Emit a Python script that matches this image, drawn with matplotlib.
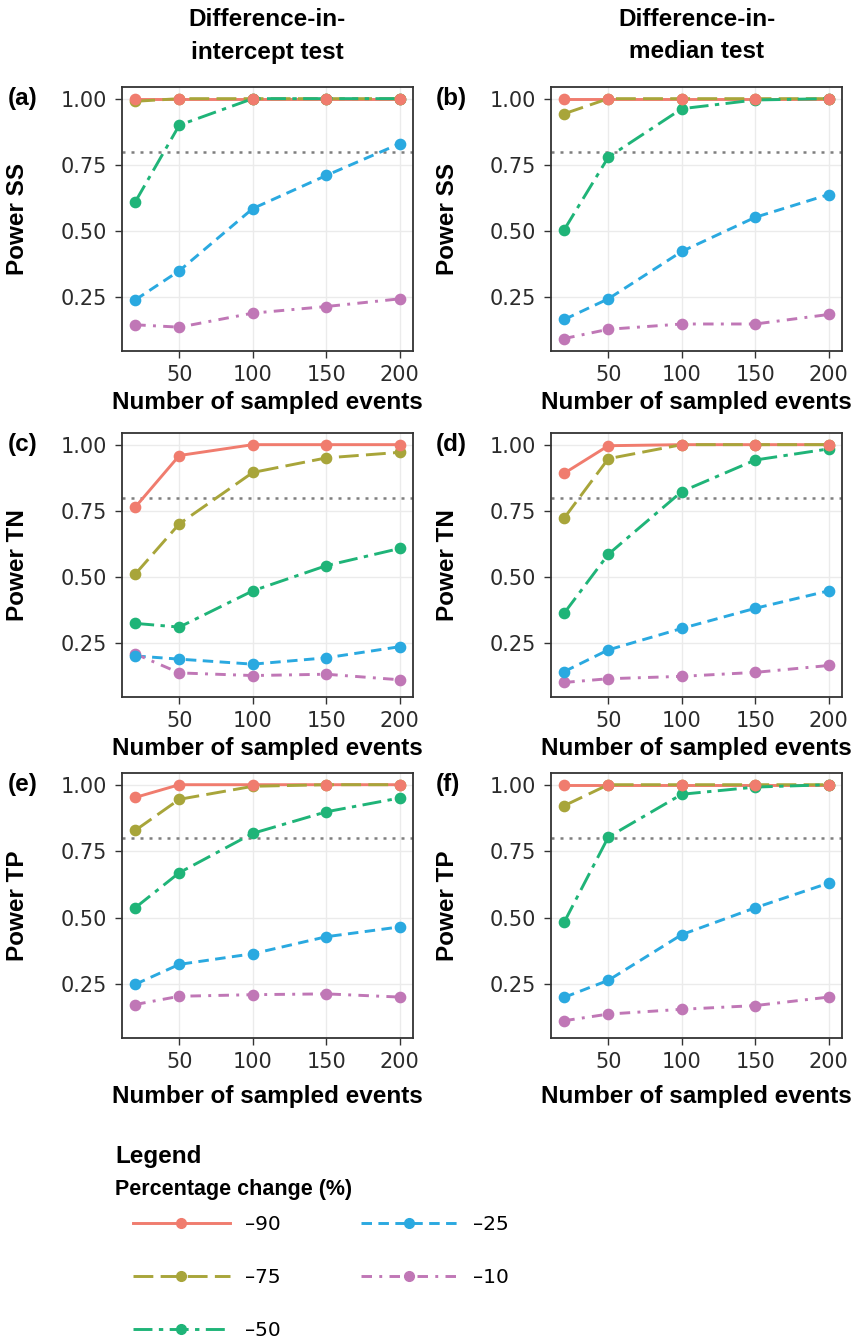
import matplotlib
matplotlib.use('Agg')
import matplotlib.pyplot as plt
from matplotlib.lines import Line2D
from matplotlib.ticker import FormatStrFormatter

# sampled events on x axis
n_events = [20, 50, 100, 150, 200]
pct_change = ['–90', '–75', '–50', '–25', '–10']

# power per percentage change (-90, -75, -50, -25, -10)
power_ss_intercept = [[1.00, 1.00, 1.00, 1.00, 1.00],
                      [0.99, 1.00, 1.00, 1.00, 1.00],
                      [0.61, 0.90, 1.00, 1.00, 1.00],
                      [0.24, 0.35, 0.585, 0.71, 0.83],
                      [0.146, 0.137, 0.19, 0.215, 0.244]]
power_ss_median = [[1.00, 1.00, 1.00, 1.00, 1.00],
                   [0.943, 1.00, 1.00, 1.00, 1.00],
                   [0.505, 0.779, 0.962, 0.995, 1.00],
                   [0.166, 0.244, 0.423, 0.552, 0.638],
                   [0.094, 0.129, 0.149, 0.149, 0.185]]
power_tn_intercept = [[0.764, 0.959, 1.00, 1.00, 1.00],
                      [0.511, 0.701, 0.895, 0.950, 0.971],
                      [0.325, 0.311, 0.448, 0.543, 0.608],
                      [0.202, 0.190, 0.171, 0.195, 0.237],
                      [0.210, 0.138, 0.128, 0.133, 0.112]]
power_tn_median = [[0.892, 0.996, 1.00, 1.00, 1.00],
                   [0.723, 0.947, 1.00, 1.00, 1.00],
                   [0.364, 0.586, 0.823, 0.942, 0.984],
                   [0.143, 0.225, 0.306, 0.382, 0.448],
                   [0.102, 0.116, 0.125, 0.140, 0.166]]
power_tp_intercept = [[0.952, 1.00, 1.00, 1.00, 1.00],
                      [0.828, 0.945, 0.994, 1.00, 1.00],
                      [0.537, 0.669, 0.817, 0.898, 0.950],
                      [0.249, 0.324, 0.364, 0.428, 0.465],
                      [0.173, 0.204, 0.210, 0.213, 0.201]]
power_tp_median = [[1.00, 1.00, 1.00, 1.00, 1.00],
                   [0.921, 1.00, 1.00, 1.00, 1.00],
                   [0.483, 0.803, 0.964, 0.991, 1.00],
                   [0.200, 0.264, 0.436, 0.537, 0.630],
                   [0.112, 0.137, 0.155, 0.169, 0.201]]

colors = ['#F07C6E', '#A8A53A', '#1FB478', '#2AA9E0', '#C077B6']
dashes = [None, (6.8, 2.5), (6.5, 2.2, 1.5, 2.2), (3.6, 2.2), (3.6, 2.5, 1.0, 2.5)]

plt.rcParams['font.family'] = ['Liberation Sans', 'DejaVu Sans']
TICKFONT = 'DejaVu Sans'
W, H = 858, 1341
fig = plt.figure(figsize=(W / 100, H / 100), dpi=100)


def add_panel(left, top, right, bottom):
    return fig.add_axes([left / W, 1 - bottom / H, (right - left) / W, (bottom - top) / H])


def draw(ax, series, ylabel, xlab_off):
    ax.set_xlim(11, 209)
    ax.set_ylim(0.047, 1.044)
    ax.set_xticks([50, 100, 150, 200])
    ax.set_yticks([0.25, 0.50, 0.75, 1.00])
    ax.yaxis.set_major_formatter(FormatStrFormatter('%.2f'))
    ax.grid(True, color='#EBEBEB', lw=1.0, zorder=0)
    ax.set_axisbelow(True)
    for s in ax.spines.values():
        s.set_color('#333333')
        s.set_linewidth(1.3)
    ax.tick_params(length=5, width=1, color='#333333', labelcolor='#2b2b2b',
                   labelsize=15)
    ax.tick_params(axis='y', pad=6)
    ax.tick_params(axis='x', pad=5)
    for lab in ax.get_xticklabels() + ax.get_yticklabels():
        lab.set_family(TICKFONT)
    ax.axhline(0.8, color='#7F7F7F', lw=1.8, ls=(0, (1.2, 2.4)), zorder=1.5)
    for i, vals in enumerate(series):
        ln, = ax.plot(n_events, vals, color=colors[i], lw=2.1, zorder=2 + i / 10)
        if dashes[i] is not None:
            ln.set_dashes(dashes[i])
    for i in range(len(series) - 1, -1, -1):
        ax.plot(n_events, series[i], ls='none', marker='o', ms=7.4,
                color=colors[i], zorder=3 + (5 - i) / 10)
    ax.set_xlabel('Number of sampled events', fontsize=17.5, fontweight='bold')
    ax.xaxis.set_label_coords(0.5, -xlab_off / 264)
    ax.xaxis.label.set_va('center')
    ax.set_ylabel(ylabel, fontsize=17.5, fontweight='bold')
    ax.yaxis.set_label_coords(-(122 - 18) / 291, 0.5)
    ax.yaxis.label.set_va('center')


cols = [(122, 413), (551, 842)]
rows = [(87, 351), (433, 697), (773, 1038)]
panels = [[power_ss_intercept, power_ss_median],
          [power_tn_intercept, power_tn_median],
          [power_tp_intercept, power_tp_median]]
ylabels = ['Power SS', 'Power TN', 'Power TP']
tags = [['(a)', '(b)'], ['(c)', '(d)'], ['(e)', '(f)']]
xlab_offs = [52, 52, 58]

for r, (top, bottom) in enumerate(rows):
    for c, (left, right) in enumerate(cols):
        ax = add_panel(left, top, right, bottom)
        draw(ax, panels[r][c], ylabels[r], xlab_offs[r])
        # panel tag sits on the 1.00 line
        ytag = ax.transData.transform((0, 1.0))[1] / H
        fig.text((8 if c == 0 else 436) / W, ytag, tags[r][c], fontsize=17.5,
                 fontweight='bold', va='center', ha='left')

for c, (left, right) in enumerate(cols):
    xc = (left + right) / 2 / W
    fig.text(xc, 1 - 20 / H, 'Difference-in-', fontsize=17.5, fontweight='bold',
             ha='center', va='center')
    fig.text(xc, 1 - 52 / H, ['intercept test', 'median test'][c], fontsize=17.5,
             fontweight='bold', ha='center', va='center')

fig.text(115 / W, 1 - 1157 / H, 'Legend', fontsize=17.5, fontweight='bold',
         ha='left', va='center')
fig.text(115 / W, 1 - 1190 / H, 'Percentage change (%)', fontsize=15.5,
         fontweight='bold', ha='left', va='center')

handles = []
for i in range(5):
    h = Line2D([], [], color=colors[i], lw=2.1, marker='o', ms=7)
    if dashes[i] is not None:
        h.set_dashes(dashes[i])
    handles.append(h)
fig.legend(handles, pct_change, ncol=2, loc='upper left',
           bbox_to_anchor=(133 / W, 1 - 1215 / H), frameon=False,
           handlelength=4.8, handletextpad=0.75, columnspacing=4.0,
           labelspacing=1.68, borderpad=0, borderaxespad=0,
           prop={'family': TICKFONT, 'size': 14.5})

fig.savefig('out.png', dpi=100)
